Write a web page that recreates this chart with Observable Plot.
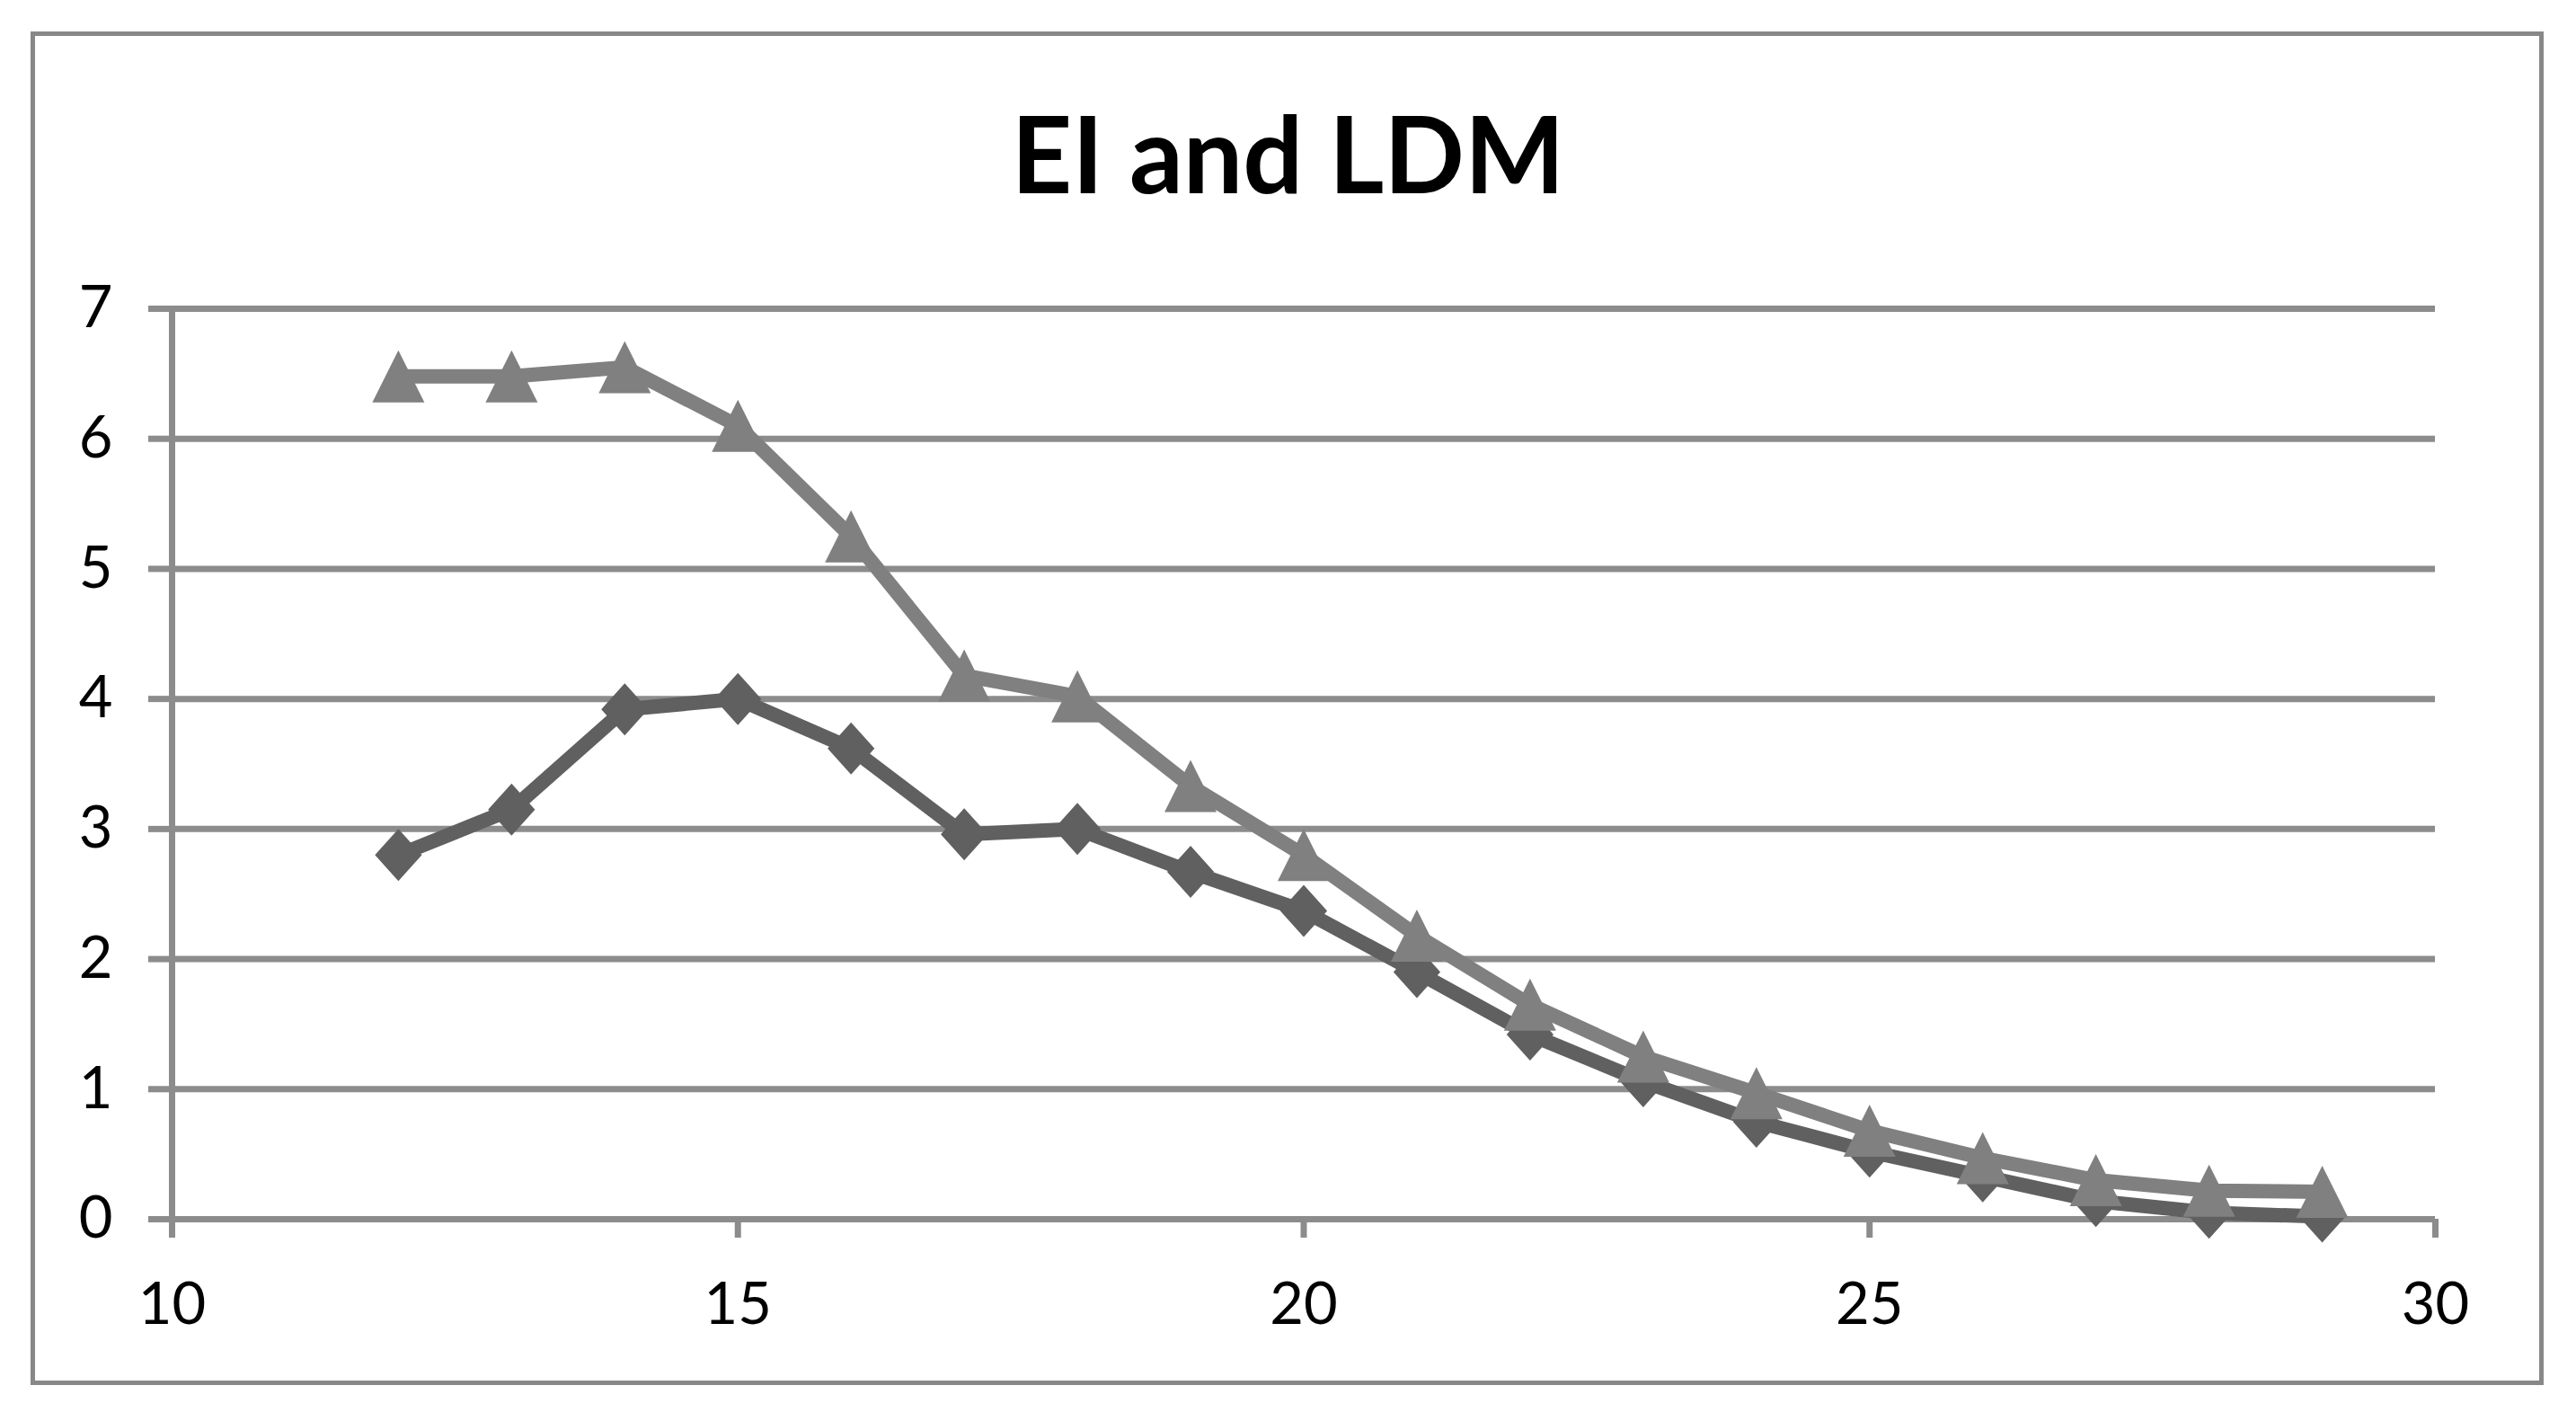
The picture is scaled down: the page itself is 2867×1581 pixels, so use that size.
<!DOCTYPE html>
<html>
<head>
<meta charset="utf-8">
<script src="https://cdn.jsdelivr.net/npm/d3@7"></script>
<script src="https://cdn.jsdelivr.net/npm/@observablehq/plot@0.6"></script>
<style>
  html, body { margin: 0; padding: 0; background: white; }
  #wrap { position: relative; width: 2867px; height: 1581px; overflow: hidden; background: white; }
  #border { position: absolute; left: 34px; top: 35px; width: 2797px; height: 1506px; box-sizing: border-box; border: 5px solid #888888; }
  #title { position: absolute; left: 0; width: 2867px; top: 100px; text-align: center; font-family: Lato, "Open Sans", sans-serif; font-weight: bold; font-size: 118px; line-height: 140px; color: #000; }
  #chart { position: absolute; left: 0; top: 0; }
</style>
</head>
<body>
<div id="wrap">
  <div id="border"></div>
  <div id="chart"></div>
  <div id="title">EI and LDM</div>
</div>
<script>
// Data
const xValues = [12, 13, 14, 15, 16, 17, 18, 19, 20, 21, 22, 23, 24, 25, 26, 27, 28, 29];
const eiValues = [2.8, 3.15, 3.92, 4.0, 3.62, 2.96, 3.0, 2.67, 2.37, 1.9, 1.42, 1.06, 0.75, 0.52, 0.33, 0.14, 0.05, 0.02];
const ldmValues = [6.48, 6.48, 6.55, 6.1, 5.25, 4.18, 4.02, 3.33, 2.8, 2.18, 1.65, 1.25, 0.97, 0.68, 0.47, 0.3, 0.22, 0.21];
const xTicks = [10, 15, 20, 25, 30];
const yTicks = [0, 1, 2, 3, 4, 5, 6, 7];

const ei = xValues.map((x, i) => ({x, y: eiValues[i]}));
const ldm = xValues.map((x, i) => ({x, y: ldmValues[i]}));

// marker shapes (bounding-box centred, like spreadsheet markers)
const triangleSym = {
  draw(ctx, size) {
    const r = Math.sqrt(size / Math.PI);
    ctx.moveTo(0, -r);
    ctx.lineTo(r, r);
    ctx.lineTo(-r, r);
    ctx.closePath();
  }
};
const diamondSym = {
  draw(ctx, size) {
    const r = Math.sqrt(size / Math.PI);
    ctx.moveTo(0, -r);
    ctx.lineTo(0.9 * r, 0);
    ctx.lineTo(0, r);
    ctx.lineTo(-0.9 * r, 0);
    ctx.closePath();
  }
};

const gridColor = "#8c8c8c";
const eiColor = "#606060";
const ldmColor = "#808080";
const fmt = d3.format("d");

const chart = Plot.plot({
  width: 2867,
  height: 1581,
  marginLeft: 191,
  marginRight: 157,
  marginTop: 343,
  marginBottom: 225,
  style: {background: "transparent", color: "#000", fontFamily: "Lato, 'Open Sans', sans-serif", fontSize: "65px"},
  x: {domain: [10, 30]},
  y: {domain: [0, 7]},
  marks: [
    Plot.gridY(yTicks, {stroke: gridColor, strokeWidth: 7, strokeOpacity: 1}),
    Plot.ruleX([10], {stroke: gridColor, strokeWidth: 7}),
    Plot.axisY(yTicks, {tickSize: 26, tickPadding: 40, tickFormat: fmt, stroke: gridColor, strokeWidth: 7, label: null, fontSize: 65, fill: "#000"}),
    Plot.axisX(xTicks, {tickSize: 21, tickPadding: 49, tickFormat: fmt, stroke: gridColor, strokeWidth: 7, label: null, fontSize: 65, fill: "#000"}),
    Plot.line(ei, {x: "x", y: "y", stroke: eiColor, strokeWidth: 16, strokeLinejoin: "round"}),
    Plot.dot(ei, {x: "x", y: "y", symbol: diamondSym, r: 29, fill: eiColor, stroke: "none"}),
    Plot.line(ldm, {x: "x", y: "y", stroke: ldmColor, strokeWidth: 16, strokeLinejoin: "round"}),
    Plot.dot(ldm, {x: "x", y: "y", symbol: triangleSym, r: 29, fill: ldmColor, stroke: "none"})
  ]
});
document.getElementById("chart").appendChild(chart);
</script>
</body>
</html>
